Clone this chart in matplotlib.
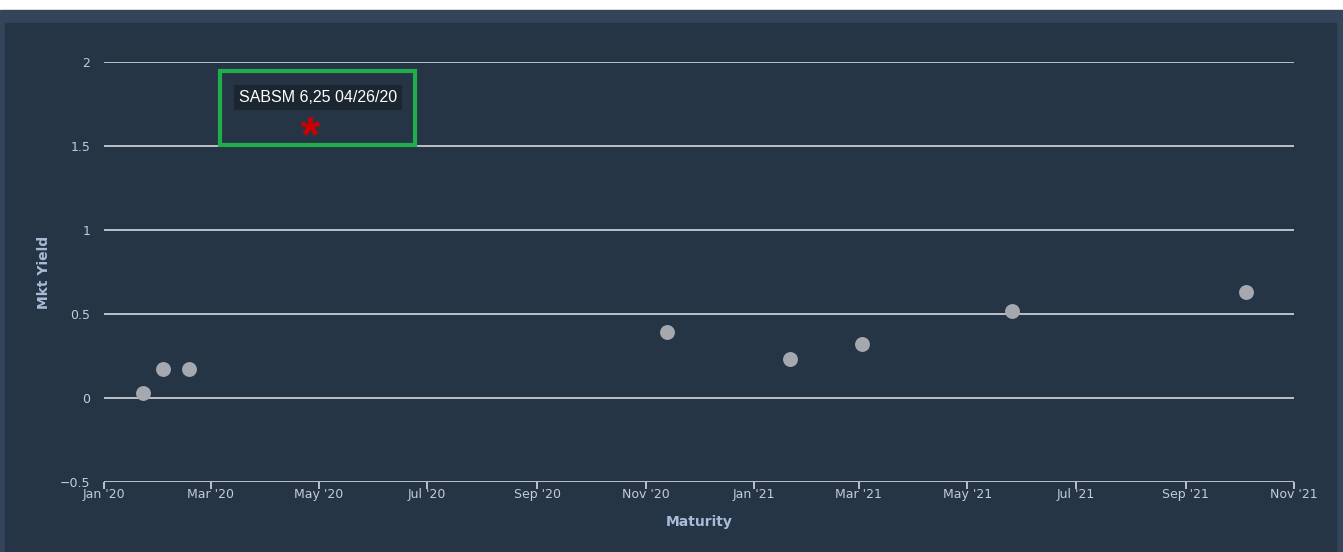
import matplotlib.pyplot as plt
import matplotlib.dates as mdates
import matplotlib.transforms as mtransforms
from matplotlib.patches import Rectangle
from matplotlib.textpath import TextPath
from matplotlib.font_manager import FontProperties
from matplotlib.path import Path
import datetime as dt

# bonds (maturity, market yield)
maturities = ["2020-01-23", "2020-02-03", "2020-02-18", "2020-11-13",
              "2021-01-21", "2021-03-03", "2021-05-26", "2021-10-05"]
yields = [0.03, 0.17, 0.17, 0.39, 0.23, 0.32, 0.52, 0.63]

# highlighted bond
hl_name = "SABSM 6,25 04/26/20"
hl_maturity = "2020-04-26"
hl_yield = 1.62

y_ticks = [-0.5, 0, 0.5, 1, 1.5, 2]
y_tick_labels = ["\u22120.5", "0", "0.5", "1", "1.5", "2"]

bg_outer = "#34445a"
bg_panel = "#263546"
grid_col = "#bcc1c7"
label_col = "#c3cbd6"
title_col = "#a8bcd8"
narrow = ["Liberation Sans Narrow", "DejaVu Sans"]

fig = plt.figure(figsize=(13.43, 5.52), dpi=100, facecolor="white")
fig.patches.append(Rectangle((0, 0), 1, 542 / 552, transform=fig.transFigure,
                             color=bg_outer, zorder=-10))
fig.patches.append(Rectangle((5 / 1343, 0), 1331 / 1343, 529 / 552,
                             transform=fig.transFigure, color=bg_panel, zorder=-9))

ax = fig.add_axes([104 / 1343, 1 - 482 / 552, 1190 / 1343, 420 / 552])
ax.patch.set_alpha(0)

x = [dt.datetime.strptime(d, "%Y-%m-%d") for d in maturities]
ax.scatter(x, yields, s=115, color="#a5a8ae", zorder=3, linewidths=0)

ax.set_xlim(dt.datetime(2020, 1, 1), dt.datetime(2021, 11, 1))
ax.set_ylim(-0.5, 2)

for yv in y_ticks:
    ax.axhline(yv, color=grid_col, lw=1.4, zorder=1)

ax.xaxis.set_major_locator(mdates.MonthLocator(bymonth=[1, 3, 5, 7, 9, 11]))
ax.xaxis.set_major_formatter(mdates.DateFormatter("%b '%y"))
ax.set_yticks(y_ticks)
ax.set_yticklabels(y_tick_labels)

for s in ax.spines.values():
    s.set_visible(False)
ax.tick_params(axis="x", colors=grid_col, length=5, width=1.4, direction="out",
               labelcolor=label_col, labelsize=9, pad=-1)
ax.tick_params(axis="y", length=0, labelcolor=label_col, labelsize=9, pad=10)
for lab in ax.get_xticklabels() + ax.get_yticklabels():
    lab.set_family(narrow)

ax.set_xlabel("Maturity", color=title_col, fontsize=10, fontweight="bold",
              family=narrow)
ax.set_ylabel("Mkt Yield", color=title_col, fontsize=10, fontweight="bold",
              family=narrow)
ax.xaxis.set_label_coords(0.5, -(522 - 482) / 420)
ax.yaxis.set_label_coords((44 - 104) / 1190, 0.5)
ax.xaxis.label.set_va("center")
ax.yaxis.label.set_va("center")

# asterisk marker built from the Liberation Sans bold glyph, centred
tp = TextPath((0, 0), "*", prop=FontProperties(family="Liberation Sans", weight="bold"))
ext = tp.get_extents()
star = Path(tp.vertices - [(ext.x0 + ext.x1) / 2, (ext.y0 + ext.y1) / 2], tp.codes)

# highlighted point with label and green box
hx = dt.datetime.strptime(hl_maturity, "%Y-%m-%d")
ax.plot([hx], [hl_yield], marker=star, markersize=36, mew=0,
        color="#cc0000", zorder=5, clip_on=False)
pt = mtransforms.ScaledTranslation(mdates.date2num(hx), hl_yield, ax.transData)
ax.add_patch(Rectangle((-90, -19), 195, 74, transform=pt, fill=False,
                       edgecolor="#1fae4b", lw=3, zorder=6, clip_on=False))
ax.annotate(hl_name, (hx, hl_yield), xytext=(5.5, 20.5), textcoords="offset points",
            ha="center", va="center", color="white", fontsize=11.5,
            family=["Liberation Sans", "DejaVu Sans"],
            bbox=dict(boxstyle="square,pad=0.3", fc="#1b2631", ec="none"),
            zorder=6)

fig.savefig("out.png", dpi=100, facecolor=fig.get_facecolor())
